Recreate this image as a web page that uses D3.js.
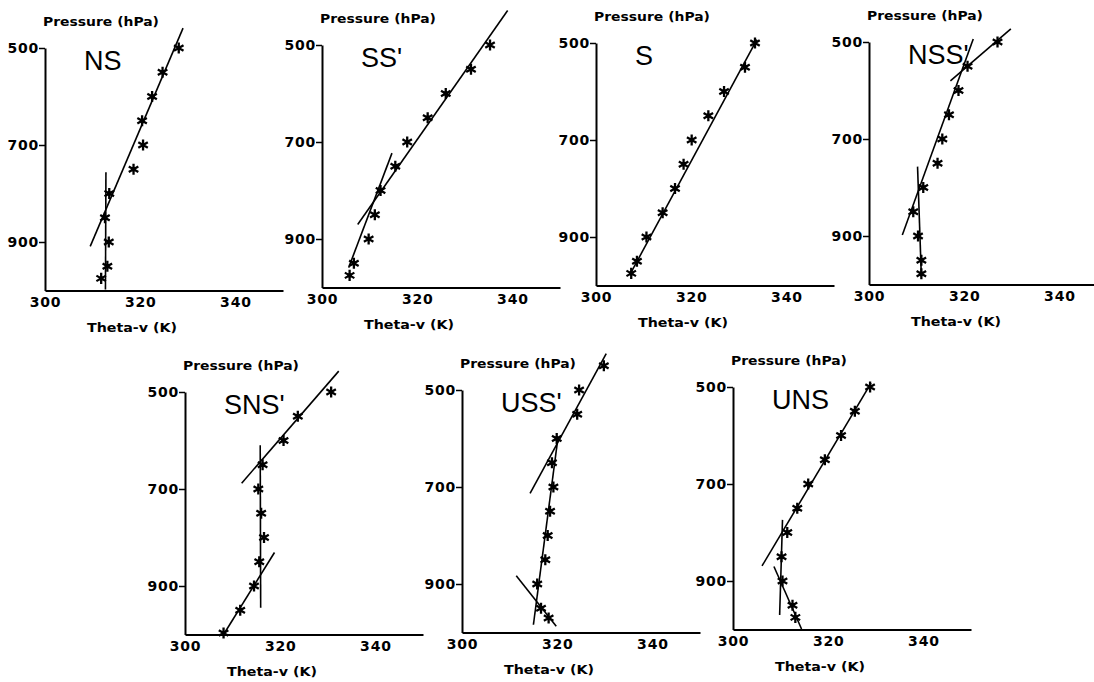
<!DOCTYPE html>
<html>
<head>
<meta charset="utf-8">
<script src="https://cdn.jsdelivr.net/npm/d3@7"></script>
<style>
  body { margin: 0; background: #fff; }
  svg { display: block; }
  .tick-label { font-family: "DejaVu Sans", sans-serif; font-size: 14px; font-weight: bold; letter-spacing: 0.8px; }
  .axis-title { font-family: "DejaVu Sans", sans-serif; font-size: 13px; font-weight: bold; }
  .panel-title { font-family: "Liberation Sans", sans-serif; font-size: 27px; }
</style>
</head>
<body>
<div id="chart"></div>
<script>
// Ticks
const pressureTicks = [500, 700, 900];
const thetaTicks = [300, 320, 340];

// Panel names
const panelNames = ["NS", "SS'", "S", "NSS'", "SNS'", "USS'", "UNS"];

// Soundings: theta-v (K) at each pressure level (hPa)
const nsTheta = [328.1, 324.7, 322.5, 320.4, 320.6, 318.6, 313.5, 312.6, 313.4, 313.1, 311.8];
const nsPres = [500, 550, 600, 650, 700, 750, 800, 850, 900, 950, 975];
const ssTheta = [335.3, 331.3, 326.0, 322.2, 317.9, 315.4, 312.3, 311.1, 309.8, 306.7, 305.8];
const ssPres = [500, 550, 600, 650, 700, 750, 800, 850, 900, 950, 975];
const sTheta = [333.4, 331.3, 326.9, 323.6, 320.1, 318.4, 316.6, 314.0, 310.6, 308.6, 307.4];
const sPres = [500, 550, 600, 650, 700, 750, 800, 850, 900, 950, 975];
const nssTheta = [327.0, 320.7, 318.8, 316.8, 315.4, 314.4, 311.4, 309.3, 310.3, 311.0, 311.0];
const nssPres = [500, 550, 600, 650, 700, 750, 800, 850, 900, 950, 978];
const snsTheta = [330.7, 323.7, 320.7, 316.3, 315.4, 316.0, 316.6, 315.6, 314.5, 311.6, 308.1];
const snsPres = [500, 550, 600, 650, 700, 750, 800, 850, 900, 950, 997];
const ussTheta = [329.8, 324.6, 324.2, 319.9, 318.9, 319.2, 318.5, 318.0, 317.5, 315.8, 316.6, 318.2];
const ussPres = [450, 500, 550, 600, 650, 700, 750, 800, 850, 900, 950, 970];
const unsTheta = [328.8, 325.6, 322.7, 319.3, 315.8, 313.5, 311.4, 310.2, 310.4, 312.5, 313.1];
const unsPres = [500, 550, 600, 650, 700, 750, 800, 850, 900, 950, 975];

// Fitted layer lines: [[theta, p], [theta, p]]
const nsFits = [[[329.0, 459], [309.5, 909]], [[312.8, 756], [312.7, 998]]];
const ssFits = [[[339.0, 429], [307.5, 870]], [[314.7, 723], [305.6, 959]]];
const sFits = [[[333.8, 493], [307.2, 976]]];
const nssFits = [[[329.8, 473], [317.1, 580]], [[321.9, 494], [307.0, 898]], [[310.2, 757], [311.0, 984]]];
const snsFits = [[[332.3, 457], [311.9, 688]], [[315.8, 610], [315.9, 945]], [[318.8, 831], [308.1, 1000]]];
const ussFits = [[[330.3, 425], [314.3, 713]], [[320.1, 603], [315.0, 984]], [[311.4, 883], [319.8, 987]]];
const unsFits = [[[329.0, 492], [306.1, 869]], [[310.4, 774], [309.8, 970]], [[308.6, 870], [314.4, 999]]];

const thetaSets = [nsTheta, ssTheta, sTheta, nssTheta, snsTheta, ussTheta, unsTheta];
const presSets = [nsPres, ssPres, sPres, nssPres, snsPres, ussPres, unsPres];
const fitSets = [nsFits, ssFits, sFits, nssFits, snsFits, ussFits, unsFits];

// Layout (left edge of y axis, y of 500 hPa)
const panelPos = [[45, 48], [322, 45], [596, 43], [869, 42], [185, 392], [462, 390], [733, 387]];
const W = 238, H = 242.5;

const svg = d3.select("#chart").append("svg")
  .attr("width", 1094).attr("height", 682);

const xScale = d3.scaleLinear().domain([300, 350]).range([0, W]);
const yScale = d3.scaleLinear().domain([500, 1000]).range([0, H]);
const line = d3.line().x(d => xScale(d[0])).y(d => yScale(d[1]));
const star = d3.symbol().type(d3.symbolAsterisk).size(85);

panelNames.forEach((name, i) => {
  const [px, py] = panelPos[i];
  const g = svg.append("g").attr("transform", `translate(${px},${py})`);

  // eixo Y
  const yAxis = g.append("g").call(d3.axisLeft(yScale).tickValues(pressureTicks).tickSize(6).tickSizeOuter(0));
  yAxis.select(".domain").attr("stroke-width", 2);
  yAxis.selectAll(".tick line").attr("stroke-width", 1.5);
  yAxis.selectAll(".tick text").attr("class", "tick-label").attr("x", -6).attr("fill", "#000");

  // eixo X
  const xAxis = g.append("g").attr("transform", `translate(0,${H})`)
    .call(d3.axisBottom(xScale).tickValues(thetaTicks).tickSize(0).tickSizeOuter(0));
  xAxis.select(".domain").attr("stroke-width", 2);
  xAxis.selectAll(".tick text").attr("class", "tick-label").attr("y", 7).attr("fill", "#000");

  g.append("text").attr("class", "axis-title")
    .attr("x", -2).attr("y", -22)
    .attr("textLength", 116).attr("lengthAdjust", "spacingAndGlyphs")
    .text("Pressure (hPa)");
  g.append("text").attr("class", "axis-title")
    .attr("x", 42).attr("y", H + 41)
    .attr("textLength", 90).attr("lengthAdjust", "spacingAndGlyphs")
    .text("Theta-v (K)");
  g.append("text").attr("class", "panel-title")
    .attr("x", 39).attr("y", 22).text(name);

  // linhas ajustadas
  g.selectAll(".fit").data(fitSets[i]).enter().append("path")
    .attr("d", line).attr("fill", "none").attr("stroke", "#000").attr("stroke-width", 1.6);

  // pontos
  const pts = thetaSets[i].map((t, k) => [t, presSets[i][k]]);
  const marks = g.selectAll(".pt").data(pts).enter().append("g")
    .attr("transform", d => `translate(${xScale(d[0])},${yScale(d[1])})`);
  marks.append("path").attr("d", star).attr("fill", "none")
    .attr("stroke", "#000").attr("stroke-width", 2.3);
  marks.append("circle").attr("r", 2.2).attr("fill", "#000");
});
</script>
</body>
</html>
